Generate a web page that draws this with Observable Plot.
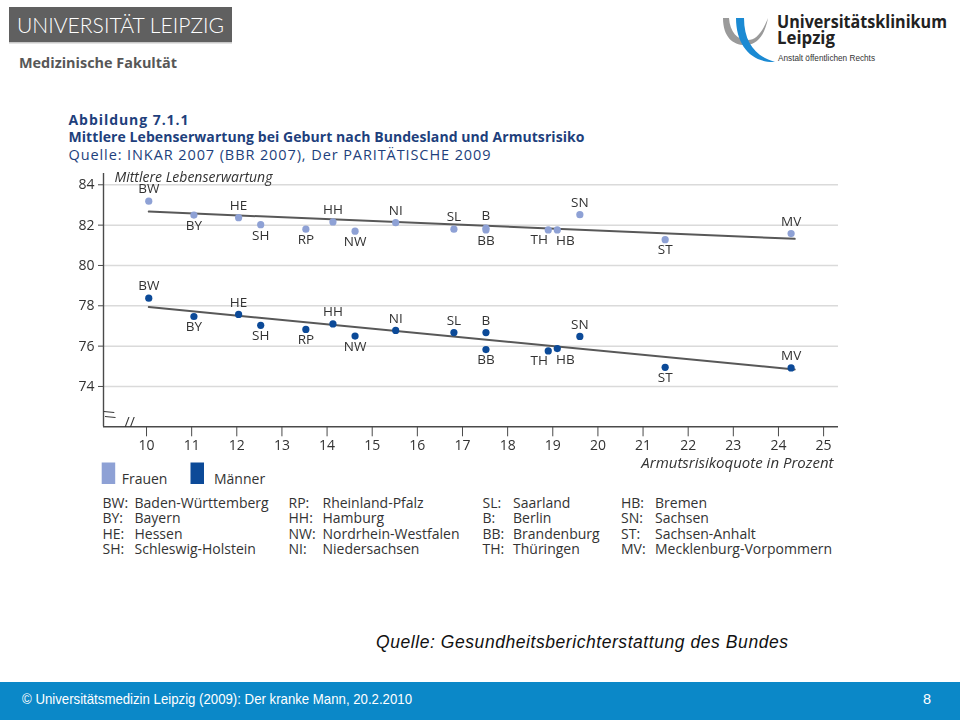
<!DOCTYPE html>
<html>
<head>
<meta charset="utf-8">
<script src="https://cdn.jsdelivr.net/npm/d3@7"></script>
<script src="https://cdn.jsdelivr.net/npm/@observablehq/plot@0.6"></script>
<style>
  html, body { margin: 0; padding: 0; background: #fff; }
  #page { position: relative; width: 960px; height: 720px; overflow: hidden; background: #fff; }
  #decor { position: absolute; left: 0; top: 0; }
  #chart { position: absolute; left: 0; top: 165px; will-change: transform; }
  #chart svg { display: block; overflow: visible; }
  .ok { font-family: "Open Sans", "Noto Sans", sans-serif; }
</style>
</head>
<body>
<div id="page">
<svg id="decor" width="960" height="720" viewBox="0 0 960 720">
  <!-- Universität Leipzig logo -->
  <rect x="9" y="7" width="223" height="35" fill="#606060"/>
  <rect x="9" y="42" width="223" height="1.5" fill="#c8c8c8"/>
  <text x="17" y="33" fill="#fff" font-family="Lato, 'Open Sans', sans-serif" font-weight="300" font-size="22" textLength="207" lengthAdjust="spacingAndGlyphs">UNIVERSITÄT LEIPZIG</text>
  <text x="19" y="68" fill="#575757" font-family="'Open Sans', sans-serif" font-weight="700" font-size="14.5" textLength="158" lengthAdjust="spacingAndGlyphs">Medizinische Fakultät</text>
  <!-- Universitätsklinikum logo -->
  <path d="M723,18 C723,38 734,46 747,45 C758,44 765,34 768,18 C762,33 756,40 748,40 C737,40 730,32 729,18 Z" fill="#9a9a9a"/>
  <path d="M736,18 C736,46 752,63 775,62 C757,57 744,44 744,18 Z" fill="#1b8ad3"/>
  <text x="777" y="27.5" fill="#222" font-family="'Open Sans', sans-serif" font-weight="700" font-size="17" textLength="170" lengthAdjust="spacingAndGlyphs">Universitätsklinikum</text>
  <text x="777" y="44" fill="#222" font-family="'Open Sans', sans-serif" font-weight="700" font-size="17" textLength="58" lengthAdjust="spacingAndGlyphs">Leipzig</text>
  <text x="778" y="60.5" fill="#333" font-family="'Liberation Sans Narrow', 'Liberation Sans', sans-serif" font-size="9" textLength="97" lengthAdjust="spacingAndGlyphs">Anstalt öffentlichen Rechts</text>
  <!-- Figure title -->
  <g class="ok" fill="#1e3f7c">
    <text id="t1" x="68.5" y="125" font-weight="700" font-size="14"></text>
    <text id="t2" x="68.5" y="142" font-weight="700" font-size="14"></text>
    <text id="t3" x="68.5" y="159.5" font-weight="400" font-size="14.5"></text>
  </g>
  <!-- Legend -->
  <g id="legend" class="ok" fill="#333" font-size="14"></g>
  <g id="key" class="ok" fill="#333" font-size="14"></g>
  <!-- Source -->
  <text id="src" x="376" y="648" fill="#111" font-family="'Liberation Sans', Arial, sans-serif" font-style="italic" font-size="17.5" textLength="412" lengthAdjust="spacing"></text>
  <!-- Footer -->
  <rect x="0" y="682" width="960" height="38" fill="#0b88c8"/>
  <text id="foot" x="22" y="704" fill="#fff" font-family="'Liberation Sans Narrow', 'Liberation Sans', Arial, sans-serif" font-size="14.5" textLength="390" lengthAdjust="spacingAndGlyphs"></text>
  <text x="923" y="704" fill="#fff" font-family="'Liberation Sans Narrow', 'Liberation Sans', Arial, sans-serif" font-size="14.5">8</text>
</svg>
<div id="chart"></div>
</div>
<script>
// ---------- data ----------
const states   = ["BW","BY","HE","SH","RP","HH","NW","NI","SL","B","BB","TH","HB","SN","ST","MV"];
const armut    = [10.05, 11.05, 12.04, 12.53, 13.53, 14.13, 14.62, 15.52, 16.81, 17.52, 17.52, 18.90, 19.10, 19.60, 21.49, 24.28];
const frauen   = [83.19, 82.50, 82.37, 82.02, 81.80, 82.16, 81.70, 82.12, 81.80, 81.85, 81.76, 81.76, 81.76, 82.52, 81.28, 81.58];
const maenner  = [78.38, 77.47, 77.57, 77.03, 76.83, 77.10, 76.50, 76.78, 76.67, 76.67, 75.83, 75.76, 75.88, 76.48, 74.95, 74.92];
const labelPlace = ["above","below","above","below","below","above","below","above","above","above","below","belowLeft","belowRight","above","below","above"];

const trendX       = [10.05, 24.36];
const trendFrauen  = [82.67, 81.32];
const trendMaenner = [77.94, 74.84];

const xTicks = [10,11,12,13,14,15,16,17,18,19,20,21,22,23,24,25];
const yTicks = [74,76,78,80,82,84];

const yTitle = "Mittlere Lebenserwartung";
const xTitle = "Armutsrisikoquote in Prozent";
const seriesNames = ["Frauen", "Männer"];

const titleLines = [
  "Abbildung 7.1.1",
  "Mittlere Lebenserwartung bei Geburt nach Bundesland und Armutsrisiko",
  "Quelle: INKAR 2007 (BBR 2007), Der PARITÄTISCHE 2009"
];
const keyCodes = [
  ["BW:","BY:","HE:","SH:"],
  ["RP:","HH:","NW:","NI:"],
  ["SL:","B:","BB:","TH:"],
  ["HB:","SN:","ST:","MV:"]
];
const keyNames = [
  ["Baden-Württemberg","Bayern","Hessen","Schleswig-Holstein"],
  ["Rheinland-Pfalz","Hamburg","Nordrhein-Westfalen","Niedersachsen"],
  ["Saarland","Berlin","Brandenburg","Thüringen"],
  ["Bremen","Sachsen","Sachsen-Anhalt","Mecklenburg-Vorpommern"]
];
const sourceText = "Quelle: Gesundheitsberichterstattung des Bundes";
const footerText = "© Universitätsmedizin Leipzig (2009):  Der kranke Mann, 20.2.2010";

// ---------- styles ----------
const fColor = "#8ea1d5";
const mColor = "#0c4a98";
const textColor = "#333";

// ---------- static texts ----------
d3.select("#t1").text(titleLines[0]).attr("textLength", 120).attr("lengthAdjust", "spacing");
d3.select("#t2").text(titleLines[1]).attr("textLength", 516).attr("lengthAdjust", "spacing");
d3.select("#t3").text(titleLines[2]).attr("textLength", 422).attr("lengthAdjust", "spacing");
d3.select("#src").text(sourceText);
d3.select("#foot").text(footerText);

const legend = d3.select("#legend");
[[101.7, 121.7, fColor], [190.5, 214, mColor]].forEach(([sx, tx, c], i) => {
  legend.append("rect").attr("x", sx).attr("y", 462.5).attr("width", 13.5).attr("height", 21.5).attr("fill", c);
  legend.append("text").attr("x", tx).attr("y", 483.5).text(seriesNames[i]);
});
const key = d3.select("#key");
const colAbbrX = [102.5, 288.5, 482.5, 621];
const colNameX = [134.5, 322.5, 513, 655];
const rowY = [508, 523.3, 538.6, 553.9];
keyCodes.forEach((col, c) => col.forEach((code, r) => {
  key.append("text").attr("x", colAbbrX[c]).attr("y", rowY[r]).text(code);
  key.append("text").attr("x", colNameX[c]).attr("y", rowY[r]).text(keyNames[c][r]);
}));

// ---------- chart ----------
const rows = states.map((s, i) => ({state: s, x: armut[i], f: frauen[i], m: maenner[i], place: labelPlace[i]}));
const trend = trendX.map((x, i) => ({x, f: trendFrauen[i], m: trendMaenner[i]}));

const xDomain = [9.047, 25.33];
const yDomain = [72, 84.56];

const labelStyle = {fill: textColor, fontSize: 13.5, fontFamily: "'Open Sans', sans-serif", letterSpacing: "1px"};
const placements = [
  ["above", 0, -12],
  ["below", 0, 10.5],
  ["belowLeft", -9, 10],
  ["belowRight", 8, 11]
];
function labels(yKey) {
  return placements.map(([p, dx, dy]) =>
    Plot.text(rows, {filter: d => d.place === p, x: "x", y: yKey, text: "state", dx, dy, ...labelStyle}));
}

const chart = Plot.plot({
  width: 960,
  height: 310,
  marginLeft: 103,
  marginRight: 122,
  marginTop: 8,
  marginBottom: 48.7,
  x: {domain: xDomain},
  y: {domain: yDomain},
  style: {
    fontFamily: "'Open Sans', 'Noto Sans', sans-serif",
    fontSize: "14px",
    color: textColor,
    background: "transparent",
    fontVariantNumeric: "oldstyle-nums"
  },
  marks: [
    Plot.gridY(yTicks, {stroke: "#dadada", strokeOpacity: 1, strokeWidth: 1.5}),
    Plot.ruleX([xDomain[0]], {stroke: "#4a4a4a", strokeWidth: 1.4}),
    Plot.ruleY([yDomain[0]], {stroke: "#4a4a4a", strokeWidth: 1.4}),
    Plot.axisY(yTicks, {tickSize: 5, tickPadding: 4, label: null, stroke: "#4a4a4a", fontSize: 14}),
    Plot.axisX(xTicks, {tickSize: 10, tickPadding: 3, label: null, stroke: "#4a4a4a", fontSize: 14}),
    Plot.text(["//"], {frameAnchor: "bottom-left", dx: 21, dy: 0, fontSize: 14, fill: "#333"}),
    Plot.text(["//"], {frameAnchor: "bottom-left", dx: 0, dy: -16, rotate: 75, fontSize: 14, fill: "#333"}),
    Plot.line(trend, {x: "x", y: "f", stroke: "#585858", strokeWidth: 2}),
    Plot.line(trend, {x: "x", y: "m", stroke: "#585858", strokeWidth: 2}),
    Plot.dot(rows, {x: "x", y: "f", r: 3.6, fill: fColor}),
    Plot.dot(rows, {x: "x", y: "m", r: 3.6, fill: mColor}),
    ...labels("f"),
    ...labels("m"),
    Plot.text([yTitle], {frameAnchor: "top-left", lineAnchor: "middle", dx: 11, dy: 4, textAnchor: "start", fontStyle: "italic", fontSize: 14, fill: textColor}),
    Plot.text([xTitle], {frameAnchor: "bottom-right", lineAnchor: "middle", dx: -5, dy: 36.5, textAnchor: "end", fontStyle: "italic", fontSize: 15, letterSpacing: "0.6px", fill: textColor})
  ]
});
document.getElementById("chart").appendChild(chart);
</script>
</body>
</html>
